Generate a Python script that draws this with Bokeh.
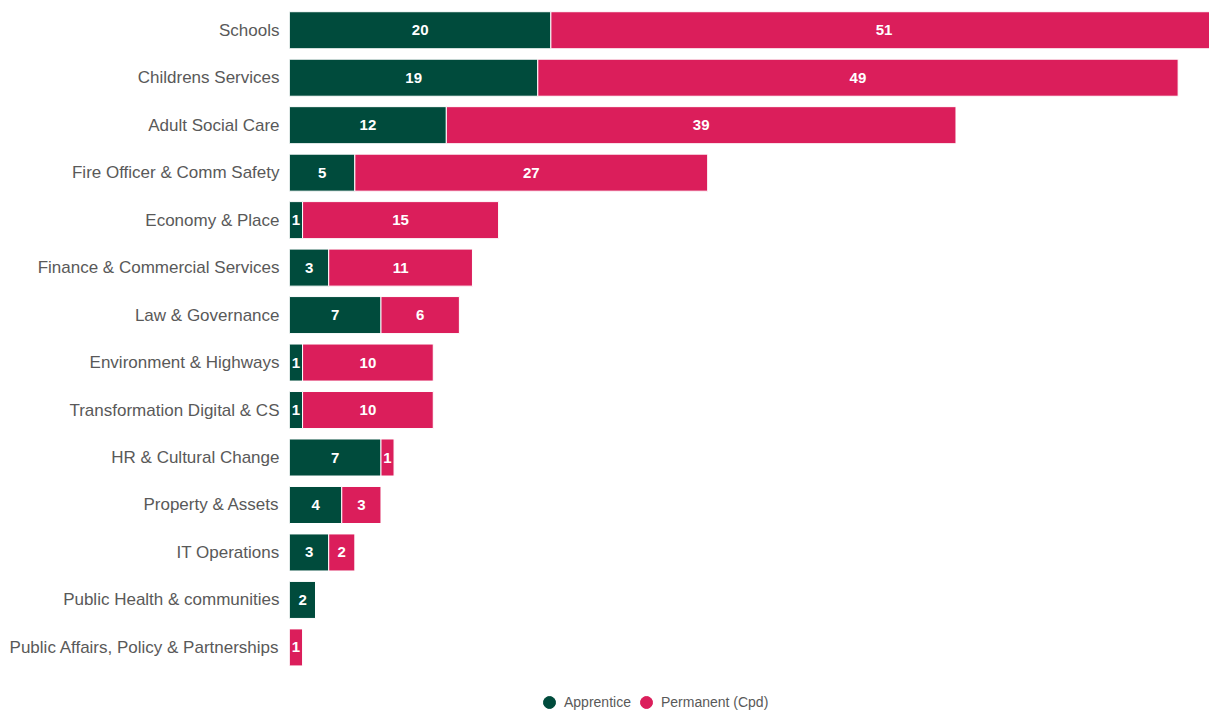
from bokeh.plotting import figure
from bokeh.models import ColumnDataSource, Range1d, LabelSet, Legend, LegendItem
from bokeh.core.properties import value
from bokeh.embed import file_html
from bokeh.resources import INLINE

categories = ["Schools", "Childrens Services", "Adult Social Care", "Fire Officer & Comm Safety",
              "Economy & Place", "Finance & Commercial Services", "Law & Governance",
              "Environment & Highways", "Transformation Digital & CS", "HR & Cultural Change",
              "Property & Assets", "IT Operations", "Public Health & communities",
              "Public Affairs, Policy & Partnerships"]
apprentice = [20, 19, 12, 5, 1, 3, 7, 1, 1, 7, 4, 3, 2, 0]
permanent = [51, 49, 39, 27, 15, 11, 6, 10, 10, 1, 3, 2, 0, 1]
series = ["Apprentice", "Permanent (Cpd)"]
colors = ["#004B3C", "#DB1E5B"]

n = len(categories)
ypos = [n - 1 - i for i in range(n)]
src = ColumnDataSource(dict(y=ypos, Apprentice=apprentice, Permanent=permanent))

p = figure(width=1209, height=711, output_backend="svg", toolbar_location=None,
           x_range=Range1d(0, 70.4), y_range=Range1d(-1.35, n - 0.5),
           min_border_left=289, min_border_right=0, min_border_top=6, min_border_bottom=0)
p.outline_line_color = None
p.grid.visible = False
p.xaxis.visible = False
p.yaxis.ticker = ypos
p.yaxis.major_label_overrides = {y: c for y, c in zip(ypos, categories)}
p.yaxis.axis_line_color = None
p.yaxis.major_tick_line_color = None
p.yaxis.minor_tick_line_color = None
p.yaxis.major_label_text_font = "Liberation Sans"
p.yaxis.major_label_text_font_size = "17px"
p.yaxis.major_label_text_color = "#595959"
p.yaxis.major_label_standoff = 4

p.hbar_stack(["Apprentice", "Permanent"], y="y", height=0.78, color=colors,
             line_color="white", line_width=1, source=src)

def label_src(vals, offsets):
    xs, ys, ts = [], [], []
    for yy, v, o in zip(ypos, vals, offsets):
        if v > 0:
            xs.append(o + v / 2)
            ys.append(yy)
            ts.append(str(v))
    return ColumnDataSource(dict(x=xs, y=ys, t=ts))

for s in [label_src(apprentice, [0] * n), label_src(permanent, apprentice)]:
    p.add_layout(LabelSet(x="x", y="y", text="t", source=s, text_color="white",
                          text_font=value("Liberation Sans"), text_font_style="bold",
                          text_font_size="15px", text_align="center", text_baseline="middle"))

nan = float("nan")
d1 = p.scatter(x=[nan], y=[nan], size=12, color=colors[0])
d2 = p.scatter(x=[nan], y=[nan], size=12, color=colors[1])
legend = Legend(items=[LegendItem(label=series[0], renderers=[d1]),
                       LegendItem(label=series[1], renderers=[d2])],
                orientation="horizontal", location=(245, -6), border_line_color=None,
                background_fill_alpha=0,
                label_text_font="Liberation Sans", label_text_font_size="14px",
                label_text_color="#595959", glyph_width=30, glyph_height=30,
                label_standoff=0, spacing=-6, padding=2, margin=0)
p.add_layout(legend, "center")

open("out.html", "w").write(file_html(p, INLINE))
